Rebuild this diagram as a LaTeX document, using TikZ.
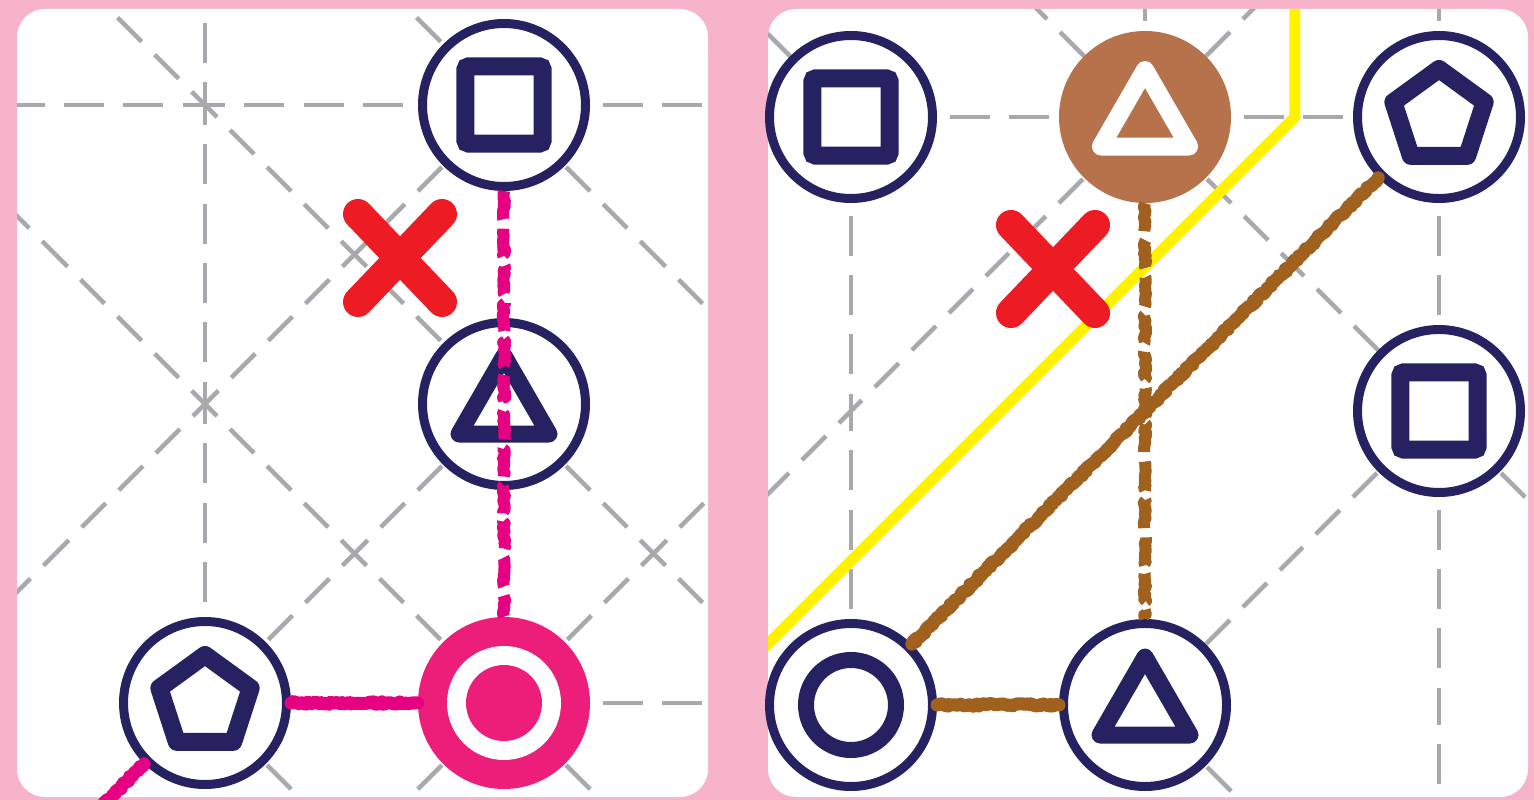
\documentclass[tikz,border=0pt]{standalone}
\usepackage{tikz}
\usetikzlibrary{shapes.geometric,decorations.pathmorphing}

\definecolor{boardpink}{RGB}{247,179,201}
\definecolor{inkblue}{RGB}{38,34,98}
\definecolor{gridgray}{RGB}{167,169,172}
\definecolor{goalpink}{RGB}{236,30,121}
\definecolor{trailpink}{RGB}{230,0,130}
\definecolor{stonebrown}{RGB}{181,114,75}
\definecolor{trailbrown}{RGB}{160,97,30}
\definecolor{crossred}{RGB}{237,28,36}
\definecolor{routeyellow}{RGB}{255,242,0}

\tikzset{
  leftboard/.style={shift={(205,105)}, x=149.5pt, y=-149.5pt},
  rightboard/.style={shift={(851,117)}, x=147pt, y=-147pt},
  stone/.style={circle, draw=inkblue, line width=9pt, fill=white, minimum size=163pt, inner sep=0pt},
  goalstone/.style={circle, fill=goalpink, minimum size=172pt, inner sep=0pt},
  brownstone/.style={circle, fill=stonebrown, minimum size=172pt, inner sep=0pt},
  sqmark/.style={regular polygon, regular polygon sides=4, draw=inkblue, line width=18pt, minimum size=109pt, inner sep=0pt, rounded corners=3pt},
  trimark/.style={regular polygon, regular polygon sides=3, draw=inkblue, line width=17pt, minimum size=104pt, inner sep=0pt, line join=round},
  pentmark/.style={regular polygon, regular polygon sides=5, draw=inkblue, line width=18pt, minimum size=96pt, inner sep=0pt, line join=round},
  ringmark/.style={circle, draw=inkblue, line width=16pt, minimum size=90pt, inner sep=0pt},
  gridline/.style={draw=gridgray, line width=4.5pt, dash pattern=on 40pt off 19.3pt, dash phase=20pt},
  gridslant/.style={draw=gridgray, line width=4.5pt, dash pattern=on 34pt off 18.4pt, dash phase=17pt},
  roughtrail/.style={line width=13pt, line cap=round, line join=round, decorate, decoration={random steps, segment length=2.5pt, amplitude=1.4pt}},
  dottrail/.style={line width=12pt, line join=round, dash pattern=on 30pt off 10pt, decorate, decoration={random steps, segment length=2.5pt, amplitude=1.2pt}},
  crossline/.style={draw=crossred, line width=30pt, line cap=round},
}

\begin{document}
\begin{tikzpicture}[x=1pt, y=-1pt]
			%%%%% BOARD %%%%%
			\fill[boardpink] (0,0) rectangle (1534,800);
			\useasboundingbox (0,0) rectangle (1534,800);
			\fill[white, rounded corners=28pt] (17,9) rectangle (708,797);
			\fill[white, rounded corners=28pt] (768,9) rectangle (1528,797);
			
			%%%%% LEFT GRID %%%%%
			\begin{scope}
				\clip[rounded corners=28pt] (17,9) rectangle (708,797);
				\begin{scope}[leftboard]
					\foreach \p/\q in {{-2,0}/{0,0}, {0,0}/{2,0}, {2,0}/{4,0}, {2,4}/{4,4},
						{0,-2}/{0,0}, {0,0}/{0,2}, {0,2}/{0,4}, {2,4}/{2,6}}
						\draw[gridline] (\p) -- (\q);
					\foreach \p/\q in {{-1,-1}/{0,0}, {0,0}/{1,1}, {1,1}/{2,2}, {2,2}/{3,3}, {3,3}/{4,4},
						{1,-1}/{2,0}, {2,0}/{3,1}, {3,1}/{4,2},
						{-2,0}/{-1,1}, {-1,1}/{0,2}, {0,2}/{1,3}, {1,3}/{2,4}, {2,4}/{3,5},
						{0,4}/{1,5},
						{2,0}/{1,1}, {1,1}/{0,2}, {0,2}/{-1,3}, {-1,3}/{-2,4},
						{2,2}/{1,3}, {1,3}/{0,4},
						{4,2}/{3,3}, {3,3}/{2,4}, {2,4}/{1,5}}
						\draw[gridslant] (\p) -- (\q);
				\end{scope}
			\end{scope}
			
			%%%%% RIGHT GRID %%%%%
			\begin{scope}
				\clip[rounded corners=28pt] (768,9) rectangle (1528,797);
				\begin{scope}[rightboard]
					\foreach \p/\q in {{-2,0}/{0,0}, {0,0}/{2,0}, {2,0}/{4,0}, {4,0}/{6,0},
						{0,0}/{0,2}, {0,2}/{0,4}, {2,-2}/{2,0},
						{4,-2}/{4,0}, {4,0}/{4,2}, {4,2}/{4,4}, {4,4}/{4,6}}
						\draw[gridline] (\p) -- (\q);
					\foreach \p/\q in {{-1,-1}/{0,0},
						{1,-1}/{2,0}, {2,0}/{3,1}, {3,1}/{4,2}, {4,2}/{5,3},
						{2,4}/{3,5},
						{3,-1}/{2,0}, {2,0}/{1,1}, {1,1}/{0,2}, {0,2}/{-1,3},
						{4,2}/{3,3}, {3,3}/{2,4}}
						\draw[gridslant] (\p) -- (\q);
					\draw[routeyellow, line width=11pt] (3.02,-1) -- (3.02,0) -- (-0.98,4);
				\end{scope}
			\end{scope}
			
			%%%%% LEFT STONES %%%%%
			\begin{scope}[leftboard]
				\node[stone] (sqL) at (2,0) {};
				\node[sqmark] at (sqL) {};
				\node[stone] (triL) at (2,2) {};
				\node[trimark] at ([yshift=-4pt]triL.center) {};
				\node[stone] (pentL) at (0,4) {};
				\node[pentmark] at (pentL) {};
				\node[goalstone] (goal) at (2,4) {};
				\fill[white] (goal) circle (57pt);
				\fill[goalpink] (goal) circle (38pt);
				\coordinate (pinkexit) at (-1,5);
				
				\draw[dottrail, trailpink] (sqL) -- (goal);
				\draw[roughtrail, trailpink] (pentL) -- (goal);
				\draw[roughtrail, trailpink] (pentL) -- (pinkexit);
			\end{scope}
			
			%%%%% RIGHT STONES %%%%%
			\begin{scope}[rightboard]
				\node[stone] (sqA) at (0,0) {};
				\node[sqmark] at (sqA) {};
				\node[brownstone] (triB) at (2,0) {};
				\node[trimark, draw=white, line width=18pt, minimum size=102pt] at ([yshift=-4pt]triB.center) {};
				\node[stone] (pentR) at (4,0) {};
				\node[pentmark] at (pentR) {};
				\node[stone] (sqB) at (4,2) {};
				\node[sqmark] at (sqB) {};
				\node[stone] (ringR) at (0,4) {};
				\node[ringmark] at (ringR) {};
				\node[stone] (triR) at (2,4) {};
				\node[trimark] at ([yshift=-4pt]triR.center) {};
				
				\draw[dottrail, trailbrown] (triB) -- (triR);
				\draw[roughtrail, trailbrown] (ringR) -- (triR);
				\draw[roughtrail, trailbrown] (ringR) -- (pentR);
			\end{scope}
			
			%%%%% CROSSES %%%%%
			\draw[crossline] (358,214) -- (442,302);
			\draw[crossline] (442,214) -- (358,302);
			\draw[crossline] (1011,225) -- (1095,313);
			\draw[crossline] (1095,225) -- (1011,313);
\end{tikzpicture}
\end{document}
